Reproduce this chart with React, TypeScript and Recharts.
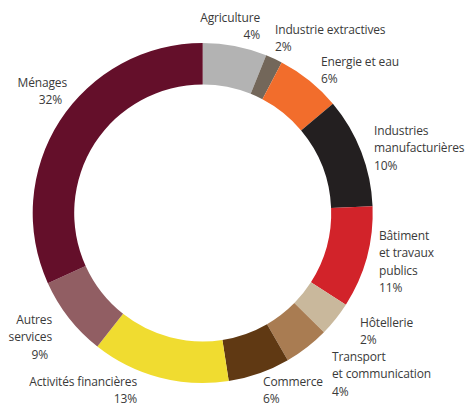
import React from "react";
import { PieChart, Pie, Cell } from "recharts";

// sector names ("\n" = line break in the label)
const sectors = [
  "Agriculture",
  "Industrie extractives",
  "Energie et eau",
  "Industries\nmanufacturières",
  "Bâtiment\net travaux\npublics",
  "Hôtellerie",
  "Transport\net communication",
  "Commerce",
  "Activités financières",
  "Autres\nservices",
  "Ménages",
];

// arc shares as drawn in the picture
const shares = [6.1, 1.6, 6.2, 10.5, 9.7, 3.3, 4.3, 5.9, 13.1, 7.6, 31.8];

// percentages as printed on the labels
const printedPct = ["4%", "2%", "6%", "10%", "11%", "2%", "4%", "6%", "13%", "9%", "32%"];

const colors = [
  "#b3b3b3",
  "#73675a",
  "#f26d2c",
  "#231f20",
  "#d2232a",
  "#c9b89c",
  "#a97c52",
  "#603913",
  "#f0dc30",
  "#915e63",
  "#640f2a",
];

const data = sectors.map((name, i) => ({ name, value: shares[i], pct: printedPct[i] }));

// label placement: x, first baseline, anchor, extra dx for the % line
const labelLayout: [number, number, "start" | "end", number][] = [
  [260, 22, "end", 0],
  [275, 34, "start", 0],
  [321, 66, "start", 0],
  [374, 135, "start", 0],
  [379, 240, "start", 0],
  [360, 327, "start", 0],
  [332, 361, "start", 0],
  [263, 386, "start", 0],
  [137, 386, "end", 0],
  [52, 324, "end", -4],
  [67, 87, "end", -5],
];

const LINE_H = 17.3;

const renderLabel = (props: any) => {
  const i = props.index;
  const [x, y, anchor, pctDx] = labelLayout[i];
  const lines = sectors[i].split("\n");
  return (
    <text
      key={`lbl-${i}`}
      x={x}
      y={y}
      textAnchor={anchor}
      fill="#3a3a3a"
      fontSize={12}
      letterSpacing={-0.15}
      fontFamily="'Open Sans', sans-serif"
    >
      {lines.map((l, j) => (
        <tspan key={j} x={x} y={y + j * LINE_H}>
          {l}
        </tspan>
      ))}
      <tspan x={x + pctDx} y={y + lines.length * LINE_H}>
        {printedPct[i]}
      </tspan>
    </text>
  );
};

export default function App() {
  return (
    <div style={{ position: "absolute", left: 0, top: 0, width: 465, height: 407, background: "#fff" }}>
      <PieChart width={465} height={407} margin={{ top: 0, right: 0, bottom: 0, left: 0 }}>
        <Pie
          data={data}
          dataKey="value"
          nameKey="name"
          cx={202.7}
          cy={213}
          outerRadius={170}
          innerRadius={128.5}
          startAngle={90}
          endAngle={-270}
          stroke="none"
          label={renderLabel}
          labelLine={false}
          isAnimationActive={false}
        >
          {data.map((entry, index) => (
            <Cell key={`cell-${index}`} fill={colors[index]} />
          ))}
        </Pie>
      </PieChart>
    </div>
  );
}
